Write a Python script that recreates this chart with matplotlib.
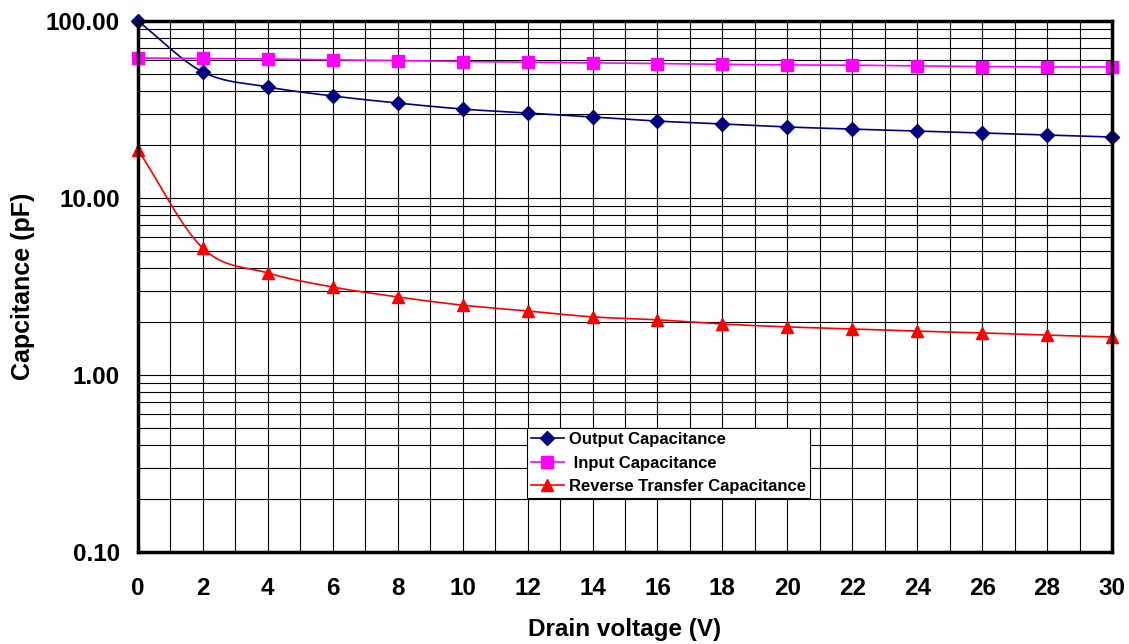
import numpy as np
import matplotlib
matplotlib.use('Agg')
import matplotlib.pyplot as plt
from matplotlib.ticker import FixedLocator, LogLocator, NullFormatter, FuncFormatter

vds = [0, 2, 4, 6, 8, 10, 12, 14, 16, 18, 20, 22, 24, 26, 28, 30]
c_out = [100.0, 51.5, 42.4, 37.7, 34.4, 31.8, 30.2, 28.7, 27.2, 26.2,
         25.2, 24.5, 23.9, 23.3, 22.7, 22.1]
c_in = [61.8, 61.5, 61.0, 60.3, 59.8, 59.0, 58.6, 58.0, 57.5, 56.9,
        56.5, 56.3, 55.7, 55.3, 55.0, 55.0]
c_rss = [18.7, 5.2, 3.77, 3.14, 2.76, 2.48, 2.30, 2.13, 2.05, 1.94,
         1.87, 1.82, 1.77, 1.73, 1.68, 1.64]

labels = ['Output Capacitance', ' Input Capacitance', 'Reverse Transfer Capacitance']
colors = ['#000080', '#FF00FF', '#FF0000']
markers = ['D', 's', '^']
msizes = [7, 8.5, 9]

plt.rcParams['font.family'] = ['Liberation Sans', 'DejaVu Sans']
plt.rcParams['font.weight'] = 'bold'


#--------------------------------------------------------------------
# geglaettete Linie (wie Excel), Catmull-Rom im (x, log y)-Raum
#--------------------------------------------------------------------
def smooth(x, y, n=20):
  x = np.asarray(x, float)
  ly = np.log10(np.asarray(y, float))
  px = np.concatenate([[2 * x[0] - x[1]], x, [2 * x[-1] - x[-2]]])
  py = np.concatenate([[2 * ly[0] - ly[1]], ly, [2 * ly[-1] - ly[-2]]])
  xs, ys = [], []
  t = np.linspace(0, 1, n, endpoint=False)
  for i in range(1, len(px) - 2):
    for p, out in ((px, xs), (py, ys)):
      p0, p1, p2, p3 = p[i - 1], p[i], p[i + 1], p[i + 2]
      out.extend(0.5 * (2 * p1 + (-p0 + p2) * t
                        + (2 * p0 - 5 * p1 + 4 * p2 - p3) * t ** 2
                        + (-p0 + 3 * p1 - 3 * p2 + p3) * t ** 3))
  xs.append(x[-1])
  ys.append(ly[-1])
  return np.array(xs), 10 ** np.array(ys)


fig = plt.figure(figsize=(11.29, 6.44), dpi=100)
ax = fig.add_axes([138 / 1129, 1 - 552 / 644, (1112 - 138) / 1129, (552 - 21) / 644])

handles = []
for yv, lab, col, mk, ms in zip([c_out, c_in, c_rss], labels, colors, markers, msizes):
  sx, sy = smooth(vds, yv)
  ax.plot(sx, sy, color=col, lw=1.2, zorder=3)
  ax.plot(vds, yv, ls='none', marker=mk, ms=ms, color=col, zorder=4, clip_on=False)
  h, = ax.plot([], [], color=col, lw=1.2, marker=mk, ms=ms)
  handles.append(h)

ax.set_yscale('log')
ax.set_xlim(0, 30)
ax.set_ylim(0.1, 100)

ax.xaxis.set_major_locator(FixedLocator(np.arange(0, 31, 2)))
ax.xaxis.set_minor_locator(FixedLocator(np.arange(0, 31, 1)))
ax.yaxis.set_major_locator(FixedLocator([0.1, 1, 10, 100]))
ax.yaxis.set_minor_locator(LogLocator(base=10, subs=np.arange(2, 10)))
ax.yaxis.set_major_formatter(FuncFormatter(lambda v, p: '%.2f' % v))
ax.yaxis.set_minor_formatter(NullFormatter())

ax.grid(True, which='both', color='black', lw=0.8)
ax.set_axisbelow(True)
ax.tick_params(which='both', length=0, labelsize=17.5)
ax.tick_params(axis='x', pad=18)
ax.tick_params(axis='y', pad=13)
for s in ax.spines.values():
  s.set_linewidth(2.5)
  s.set_zorder(5)

ax.set_xlabel('Drain voltage (V)', fontsize=17.5, fontweight='bold', labelpad=13)
ax.set_ylabel('Capcitance (pF)', fontsize=18, fontweight='bold', labelpad=8)

leg = ax.legend(handles, labels, loc='upper left', bbox_to_anchor=(0.399, 0.2335),
                borderaxespad=0, fontsize=12, frameon=True, fancybox=False,
                framealpha=1, edgecolor='black', labelspacing=0.5,
                handlelength=2.0, handletextpad=0.3, borderpad=0.25)
leg.get_frame().set_linewidth(0.8)
for t in leg.get_texts():
  t.set_fontweight('bold')

fig.savefig('out.png', dpi=100, facecolor='white')
